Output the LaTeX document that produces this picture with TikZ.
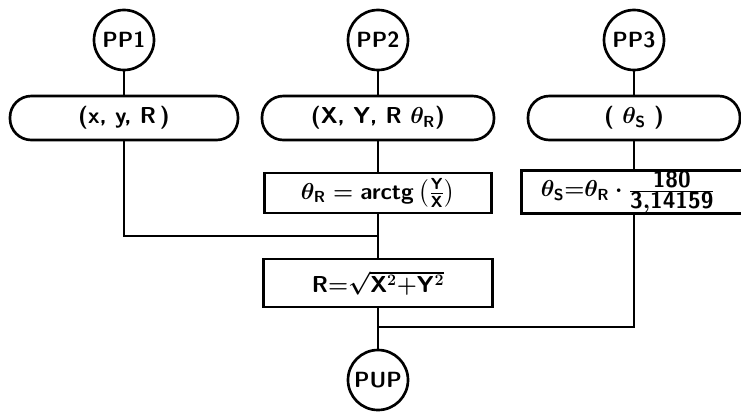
\documentclass[tikz,border=0pt]{standalone}
\usepackage{amsmath}
\usetikzlibrary{positioning}

\tikzset{every picture/.style={line width=2pt}}
\tikzset{
  term/.style={draw, circle, minimum size=45pt, inner sep=0pt, font=\sffamily\bfseries\fontsize{16.5}{19}\selectfont},
  iobox/.style={draw, rectangle, rounded corners=16pt, minimum height=33pt, inner sep=2pt, font=\sffamily\bfseries\boldmath\LARGE},
  calcbox/.style={draw, rectangle, minimum height=30pt, inner sep=2pt, font=\sffamily\bfseries\boldmath\LARGE},
}

\begin{document}
\begin{tikzpicture}[x=0.75pt,y=0.75pt,yscale=-1,xscale=1]
\useasboundingbox (0,0) rectangle (741,412);

%Shape: Circle [pp1]
\node [term] (pp1) at (124,40) {PP1};
%Shape: Circle [pp2]
\node [term] (pp2) at (378,40) {PP2};
%Shape: Circle [pp3]
\node [term] (pp3) at (634,40) {PP3};

%Shape: Rounded Rect [inA]
\node [iobox, minimum width=171pt] (inA) at (124,118) {(x, y, R\,)};
%Shape: Rounded Rect [inB]
\node [iobox, minimum width=174pt] (inB) at (378,118) {(X, Y, R $\theta_{\mathsf{R}}$)};
%Shape: Rounded Rect [inC]
\node [iobox, minimum width=159pt] (inC) at (634,118) {( $\theta_{\mathsf{S}}$ )};

%Shape: Rectangle [fTheta]
\node [calcbox, minimum width=170pt] (fTheta) at (378,193) {$\theta_{\mathsf{R}}=\mathsf{arctg}\left(\frac{\mathsf{Y}}{\mathsf{X}}\right)$};
%Shape: Rectangle [fDeg] (runs off the right edge)
\node [calcbox, anchor=west, minimum width=200pt, minimum height=32pt, inner ysep=0pt] (fDeg) at (520,192)
  {$\theta_{\mathsf{S}}{=}\theta_{\mathsf{R}}\cdot\frac{\textstyle\mathsf{180}}{\textstyle\mathsf{3{,}14159}}$\kern40pt};
%Shape: Rectangle [fR]
\node [calcbox, minimum width=172pt, minimum height=36pt] (fR) at (378,283) {$\mathsf{R}{=}\sqrt{\mathsf{X}^2{+}\mathsf{Y}^2}$};

%Shape: Circle [pup]
\node [term] (pup) at (378,380) {PUP};

%Junctions
\coordinate (jL) at (378,236);
\coordinate (jR) at (378,327);

%Straight Lines
\draw (pp1) -- (inA);
\draw (inA) |- (jL);
\draw (pp2) -- (inB);
\draw (inB) -- (fTheta);
\draw (fTheta) -- (fR);
\draw (fR) -- (pup);
\draw (pp3) -- (inC);
\draw (inC) -- (inC |- fDeg.north);
\draw (fDeg.south -| inC) |- (jR);

\end{tikzpicture}
\end{document}
